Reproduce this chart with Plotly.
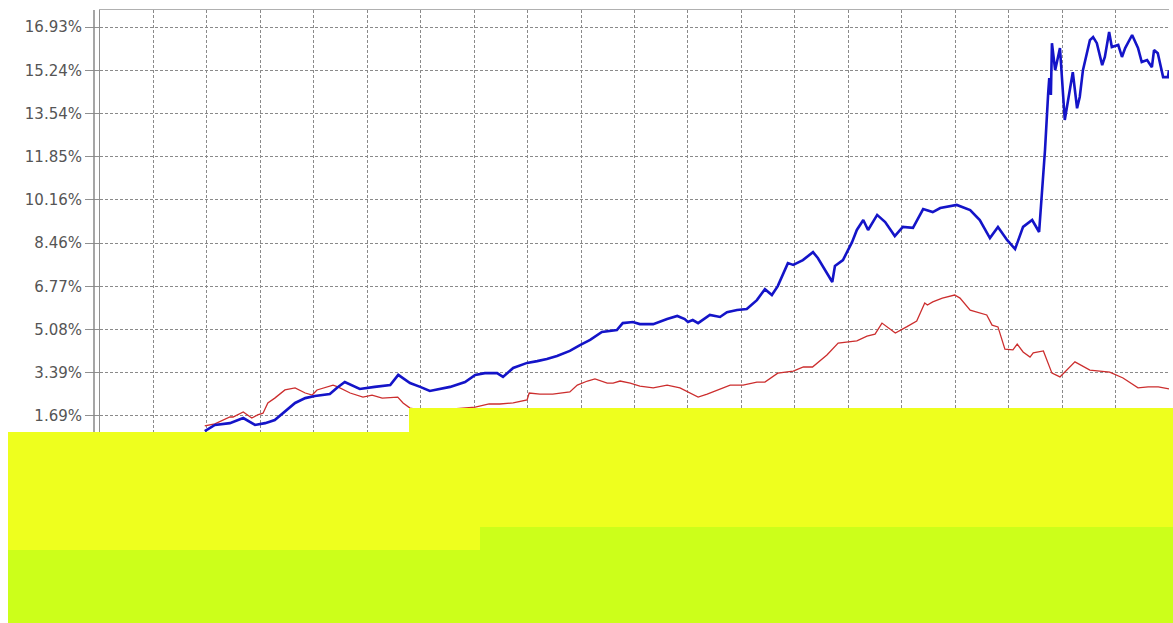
import plotly.graph_objects as go

# ---------------- data (percent returns, x = trading-day index) ----------------
blue_day = [19.6, 21.5, 24.3, 26.8, 29.0, 30.9, 32.7, 34.6, 36.5, 38.4, 40.2, 43.0, 44.3, 45.8,
            48.6, 51.4, 54.3, 55.8, 58.0, 59.9, 61.7, 65.5, 68.3, 70.2, 72.0, 74.3, 75.4, 77.3,
            79.9, 81.8, 83.6, 85.5, 87.9, 89.8, 91.7, 93.9, 96.7, 97.8, 99.7, 101.0, 103.5, 106.1,
            108.0, 109.4, 110.0, 110.9, 111.9, 114.1, 116.0, 117.3, 119.2, 121.0, 122.9, 124.4,
            125.7, 126.8, 128.7, 129.7, 131.5, 133.4, 134.3, 137.0, 137.5, 139.0, 140.7, 141.6,
            142.8, 143.7, 145.4, 146.9, 148.7, 150.2, 152.1, 154.0, 155.8, 157.2, 160.3, 162.8,
            164.6, 166.5, 168.0, 169.7, 171.2, 172.7, 174.4, 175.7, 176.8, 177.4, 177.6, 177.9,
            178.1, 178.7, 179.6, 180.5, 182.0, 182.8, 183.3, 183.9, 185.2, 185.8, 186.5, 187.5,
            188.0, 188.8, 189.3, 190.5, 191.2, 191.8, 193.1, 194.2, 194.9, 195.9, 196.8, 197.2,
            197.9, 198.9, 199.8, 200.0]
blue_val = [1.10, 1.34, 1.41, 1.61, 1.34, 1.41, 1.53, 1.85, 2.20, 2.39, 2.47, 2.55, 2.79, 3.02,
            2.75, 2.83, 2.90, 3.30, 2.98, 2.83, 2.67, 2.83, 3.02, 3.30, 3.37, 3.37, 3.22, 3.57,
            3.77, 3.84, 3.92, 4.04, 4.24, 4.47, 4.67, 4.98, 5.06, 5.33, 5.37, 5.29, 5.29, 5.49,
            5.61, 5.49, 5.37, 5.45, 5.33, 5.65, 5.57, 5.76, 5.84, 5.88, 6.23, 6.66,
            6.43, 6.78, 7.68, 7.61, 7.80, 8.11, 7.88, 6.94, 7.57, 7.80, 8.50, 8.98,
            9.37, 8.98, 9.57, 9.29, 8.74, 9.10, 9.06, 9.80, 9.68, 9.84, 9.96, 9.76,
            9.37, 8.66, 9.10, 8.59, 8.23, 9.10, 9.37, 8.90, 12.11, 14.35, 14.93, 14.27,
            16.30, 15.24, 16.11, 13.29, 15.16, 13.75, 14.19, 15.24, 16.42, 16.54, 16.30, 15.44,
            15.76, 16.74, 16.15, 16.23, 15.76, 16.11, 16.62, 16.11, 15.56, 15.64, 15.36, 16.03,
            15.91, 14.97, 14.97, 15.24]

red_day = [19.6, 21.5, 24.3, 24.9, 26.8, 28.4, 29.5, 30.5, 31.4, 32.7, 34.6, 36.5, 38.4, 39.7,
           40.6, 43.6, 44.5, 46.8, 49.2, 50.9, 52.8, 54.8, 55.7, 56.7, 58.0, 59.9, 61.7, 65.5,
           67.9, 70.2, 72.8, 74.8, 77.3, 79.9, 80.3, 82.3, 84.7, 87.9, 89.3, 91.2, 92.6, 94.9,
           96.0, 97.3, 99.2, 101.0, 103.5, 106.1, 108.5, 110.0, 111.9, 113.6, 116.0, 117.9,
           120.3, 122.9, 124.4, 126.8, 129.7, 131.6, 133.3, 136.0, 138.1, 139.8, 141.6, 143.5,
           145.0, 146.3, 147.3, 148.8, 150.9, 152.8, 154.3, 154.8, 155.8, 157.6, 159.9, 160.9,
           162.8, 164.6, 165.9, 166.9, 168.0, 169.3, 170.8, 171.6, 172.7, 174.0, 174.6, 176.5,
           178.1, 179.6, 182.4, 185.2, 188.9, 191.4, 194.2, 196.1, 198.0, 200.0]
red_val = [1.30, 1.38, 1.65, 1.65, 1.85, 1.61, 1.73, 1.80, 2.20, 2.39, 2.71, 2.79, 2.59, 2.51,
           2.71, 2.90, 2.83, 2.59, 2.43, 2.51, 2.39, 2.43, 2.43, 2.20, 2.00, 1.93, 1.89, 1.96,
           2.00, 2.04, 2.16, 2.16, 2.20, 2.32, 2.59, 2.55, 2.55, 2.63, 2.90, 3.06, 3.14, 2.98,
           2.98, 3.06, 2.98, 2.86, 2.79, 2.90, 2.79, 2.63, 2.43, 2.55, 2.75, 2.90,
           2.90, 3.02, 3.02, 3.37, 3.45, 3.61, 3.61, 4.08, 4.55, 4.59, 4.63, 4.82,
           4.90, 5.33, 5.18, 4.94, 5.18, 5.41, 6.12, 6.04, 6.16, 6.31, 6.43, 6.31,
           5.84, 5.72, 5.65, 5.25, 5.18, 4.31, 4.28, 4.51, 4.20, 4.00, 4.16, 4.24,
           3.37, 3.22, 3.81, 3.49, 3.41, 3.18, 2.79, 2.83, 2.83, 2.75]

tick_step = 1.693
tick_vals = [tick_step * k for k in range(-3, 11)]
tick_text = ["%.2f%%" % v for v in tick_vals]

# ---------------- layout geometry (page pixels; body margin removed below) ----------------
W, H = 1173, 623
PLOT_L, PLOT_R, PLOT_T, PLOT_B = 100, 1169, 10, 590
ML, MT, MR, MB = PLOT_L, PLOT_T, W - PLOT_R, H - PLOT_B
PW, PH = PLOT_R - PLOT_L, PLOT_B - PLOT_T


def px(x):
    return (x - PLOT_L) / PW


def py(y):
    return (PLOT_B - y) / PH


fig = go.Figure()
fig.add_trace(go.Scatter(x=red_day, y=red_val, mode="lines",
                         line=dict(color="#cc2e2e", width=1.3), name="red",
                         showlegend=False))
fig.add_trace(go.Scatter(x=blue_day, y=blue_val, mode="lines",
                         line=dict(color="#1414c8", width=2.6), name="blue",
                         showlegend=False))

grid = dict(showgrid=True, gridcolor="#8a8a8a", gridwidth=1, griddash="3px,2px")

fig.update_layout(
    width=W, height=H,
    margin=dict(l=ML, r=MR, t=MT, b=MB),
    paper_bgcolor="white", plot_bgcolor="white",
    font=dict(family="DejaVu Sans", size=15, color="#555555"),
    xaxis=dict(range=[0, 200], tick0=0, dtick=10, showticklabels=False,
               zeroline=False, showline=True, mirror=True, linecolor="#b0b0b0",
               linewidth=1, ticks="", **grid),
    yaxis=dict(range=[-5.13, 17.60], tickmode="array", tickvals=tick_vals,
               ticktext=tick_text, zeroline=False, showline=True, linecolor="#909090",
               linewidth=1, ticks="outside", ticklen=14, tickcolor="#909090",
               tickfont=dict(family="DejaVu Sans", size=15, color="#555555"), **grid),
)

# second (outer) axis line left of the plot area
fig.add_shape(type="line", xref="paper", yref="paper", x0=px(94), x1=px(94),
              y0=0, y1=1, line=dict(color="#888888", width=1.5), layer="above")

# overlay blocks present in the reference image (page pixels)
Y1 = "#eeff1e"
Y2 = "#ccff1a"
blocks = [
    (8, 432, 480, 550, Y1),
    (409, 408, 1173, 527, Y1),
    (8, 550, 480, 623, Y2),
    (480, 527, 1173, 623, Y2),
]
for x0, y0, x1, y1, c in blocks:
    fig.add_shape(type="rect", xref="paper", yref="paper",
                  x0=px(x0), x1=px(x1), y0=py(y1), y1=py(y0),
                  fillcolor=c, line=dict(width=0), layer="above")

fig.write_html(
    "out.html",
    config={"displayModeBar": False},
    post_script="document.body.style.margin='0';document.body.style.overflow='hidden';",
)
